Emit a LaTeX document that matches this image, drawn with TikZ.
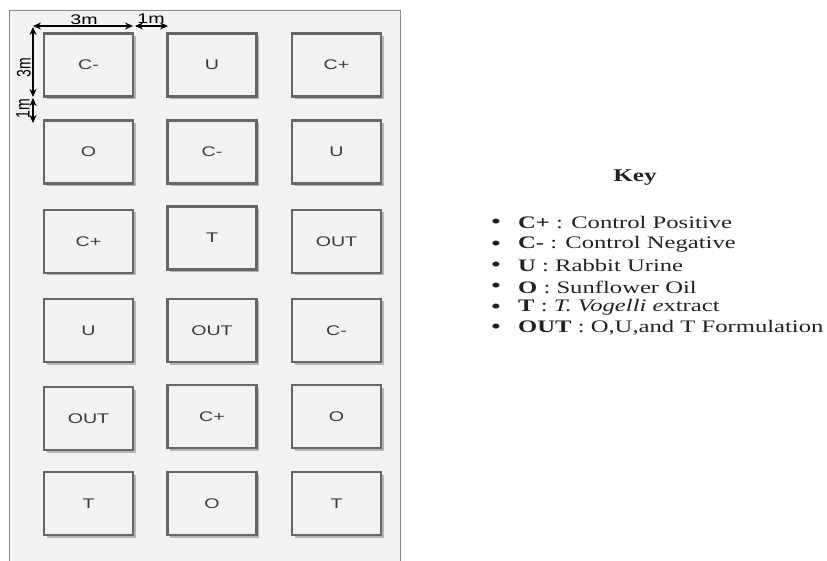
\documentclass[tikz,border=0pt]{standalone}
\usepackage{fontspec}
\setmainfont{Liberation Serif}
\setsansfont{Liberation Sans}
\usetikzlibrary{arrows.meta,shadows}
\definecolor{bgray}{HTML}{F3F3F3}
\definecolor{edgegray}{HTML}{666666}
\definecolor{framegray}{HTML}{8A8A8A}
\definecolor{labelgray}{HTML}{3A3A3A}
\definecolor{keyblack}{HTML}{222222}
\newcommand{\hs}[1]{\scalebox{1.4}[1]{#1}}
\tikzset{
  plotbox/.style={draw=edgegray, line width=2.3pt, fill=bgray,
    minimum width=89pt, minimum height=63pt, inner sep=0pt,
    drop shadow={shadow xshift=2.5pt, shadow yshift=-2.5pt, fill=black!45, opacity=0.6},
    font=\sffamily\fontsize{14}{16}\selectfont, text=labelgray},
  dimarrow/.style={{Stealth[length=8pt,width=7pt]}-{Stealth[length=8pt,width=7pt]}, line width=1.3pt, black},
  dimlabel/.style={font=\sffamily\fontsize{14}{16}\selectfont, text=black, inner sep=0pt},
  keytext/.style={font=\fontsize{17.6}{20}\selectfont, text=keyblack, anchor=west, inner sep=0pt},
  bulletnode/.style={font=\fontsize{21}{24}\selectfont, text=keyblack, inner sep=0pt}
}
\begin{document}
\begin{tikzpicture}[x=1pt,y=-1pt]
\useasboundingbox (0,0) rectangle (827,561);
% field frame
\fill[bgray] (9,11) rectangle (400,561);
\draw[framegray, line width=1pt] (9,561) -- (9,11) -- (400,11) -- (400,561);
% plots
\node[plotbox] (r1c1) at (88.5,65) {\hs{C-}};
\node[plotbox] (r1c2) at (212,65) {\hs{U}};
\node[plotbox] (r1c3) at (336.5,65) {\hs{C+}};
\node[plotbox] (r2c1) at (88.5,152) {\hs{O}};
\node[plotbox] (r2c2) at (212,152) {\hs{C-}};
\node[plotbox] (r2c3) at (336.5,152) {\hs{U}};
\node[plotbox] (r3c1) at (88.5,241.5) {\hs{C+}};
\node[plotbox] (r3c2) at (212,238) {\hs{T}};
\node[plotbox] (r3c3) at (336.5,241.5) {\hs{OUT}};
\node[plotbox] (r4c1) at (88.5,330.5) {\hs{U}};
\node[plotbox] (r4c2) at (212,330.5) {\hs{OUT}};
\node[plotbox] (r4c3) at (336.5,330.5) {\hs{C-}};
\node[plotbox] (r5c1) at (88.5,418.5) {\hs{OUT}};
\node[plotbox] (r5c2) at (212,416.5) {\hs{C+}};
\node[plotbox] (r5c3) at (336.5,416.5) {\hs{O}};
\node[plotbox] (r6c1) at (88.5,503.5) {\hs{T}};
\node[plotbox] (r6c2) at (212,503.5) {\hs{O}};
\node[plotbox] (r6c3) at (336.5,503.5) {\hs{T}};
% dimension arrows
\coordinate (hA) at (33,26);
\coordinate (hB) at (133,26);
\coordinate (hC) at (135,26);
\coordinate (hD) at (168,26);
\coordinate (vA) at (33,27);
\coordinate (vB) at (33,97);
\coordinate (vC) at (33,98);
\coordinate (vD) at (33,123);
\draw[dimarrow] (hA) -- (hB);
\draw[dimarrow] (hC) -- (hD);
\draw[dimarrow] (vA) -- (vB);
\draw[dimarrow] (vC) -- (vD);
\node[dimlabel] (l3mh) at (84,20) {\hs{3m}};
\node[dimlabel] (l1mh) at (151,19) {\hs{1m}};
\node[dimlabel] (l3mv) at (24,68) {\scalebox{1.4}[1]{\rotatebox{90}{3m}}};
\node[dimlabel] (l1mv) at (23,109) {\scalebox{1.4}[1]{\rotatebox{90}{1m}}};
% key
\node[font=\bfseries\fontsize{18}{20}\selectfont, text=keyblack, inner sep=0pt] (keytitle) at (635,178) {\hs{Key}};
\node[bulletnode] (b1) at (496,224) {\hs{\textbullet}};
\node[bulletnode] (b2) at (496,245.5) {\hs{\textbullet}};
\node[bulletnode] (b3) at (496,267) {\hs{\textbullet}};
\node[bulletnode] (b4) at (496,288) {\hs{\textbullet}};
\node[bulletnode] (b5) at (496,308.5) {\hs{\textbullet}};
\node[bulletnode] (b6) at (496,328.5) {\hs{\textbullet}};
\node[keytext] (t1) at (518,223) {\hs{\textbf{C+} : Control Positive}};
\node[keytext] (t2) at (518,244.5) {\hs{\textbf{C-} : Control Negative}};
\node[keytext] (t3) at (518,266) {\hs{\textbf{U} : Rabbit Urine}};
\node[keytext] (t4) at (518,287) {\hs{\textbf{O} : Sunflower Oil}};
\node[keytext] (t5) at (518,307.5) {\hs{\textbf{T} : \textit{T. Vogelli e}xtract}};
\node[keytext] (t6) at (518,327.5) {\hs{\textbf{OUT} : O,U,and T Formulation}};
\end{tikzpicture}
\end{document}
